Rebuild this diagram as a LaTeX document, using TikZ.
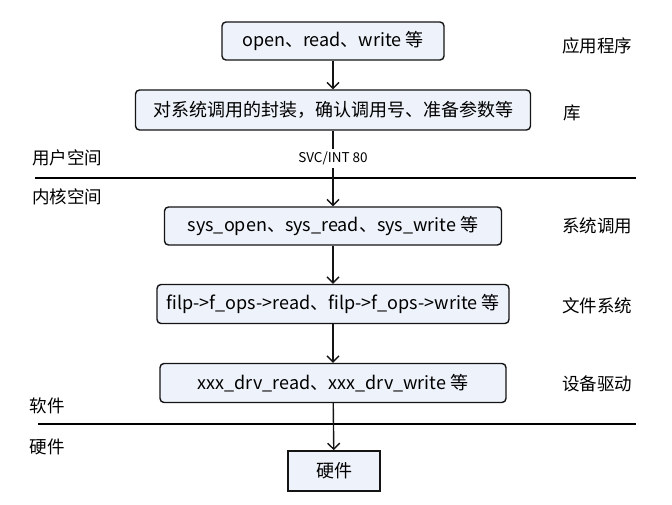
\documentclass[tikz,border=0pt]{standalone}
\usepackage{fontspec}
\setmainfont{Noto Sans CJK SC}
\usepackage{xcolor}
\usepackage{tikz}
\usetikzlibrary{arrows.meta}
\definecolor{caja}{RGB}{238,242,250}
\definecolor{borde}{RGB}{20,20,20}

\tikzset{
  capa/.style={draw=borde,line width=1.4pt,rounded corners=4pt,fill=caja,
    minimum height=38pt,inner sep=2pt,font=\fontsize{18}{21}\selectfont},
  etiqueta/.style={font=\fontsize{17.5}{20}\selectfont,inner sep=0pt},
  flecha/.style={-{Straight Barb[length=6pt,width=12pt]},line width=1.4pt,draw=borde},
  raya/.style={line width=1.6pt,draw=black}
}

\begin{document}
\begin{tikzpicture}[x=1pt,y=-1pt]
  \useasboundingbox (0,0) rectangle (672,505);
  % cajas
  \node[capa,minimum width=222pt] (app) at (333,41) {open、read、write 等};
  \node[capa,minimum width=395pt,minimum height=40pt] (lib) at (333,110) {对系统调用的封装，确认调用号、准备参数等};
  \node[capa,minimum width=337pt] (sys) at (333,226) {sys\_open、sys\_read、sys\_write 等};
  \node[capa,minimum width=352pt,minimum height=39pt] (vfs) at (333,304) {filp->f\_ops->read、filp->f\_ops->write 等};
  \node[capa,minimum width=346pt,minimum height=39pt] (drv) at (333,383) {xxx\_drv\_read、xxx\_drv\_write 等};
  \node[capa,rounded corners=0pt,line width=1.6pt,minimum width=92pt,minimum height=40pt] (hw) at (334,471) {硬件};
  % etiquetas de la derecha
  \node[etiqueta] (tapp) at (597,46) {应用程序};
  \node[etiqueta] (tlib) at (572,113) {库};
  \node[etiqueta] (tsys) at (597,226) {系统调用};
  \node[etiqueta] (tvfs) at (597,306) {文件系统};
  \node[etiqueta] (tdrv) at (597,384) {设备驱动};
  % espacios
  \coordinate (l1a) at (35,178);
  \coordinate (l1b) at (636,178);
  \coordinate (l2a) at (38,424);
  \coordinate (l2b) at (636,424);
  \draw[raya] (l1a) -- (l1b);
  \draw[raya] (l2a) -- (l2b);
  \node[etiqueta] (user) at (67,158) {用户空间};
  \node[etiqueta] (kern) at (67,197) {内核空间};
  \node[etiqueta] (soft) at (47,406) {软件};
  \node[etiqueta] (hard) at (47,447) {硬件};
  % flechas
  \draw[flecha] (app) -- (lib);
  \draw[flecha] (lib) -- node[fill=white,inner sep=3pt,pos=0.37,font=\fontsize{13.5}{16}\selectfont] (svc) {SVC/INT 80} (sys);
  \draw[flecha] (sys) -- (vfs);
  \draw[flecha] (vfs) -- (drv);
  \draw[flecha] (drv) -- (hw);
\end{tikzpicture}
\end{document}
